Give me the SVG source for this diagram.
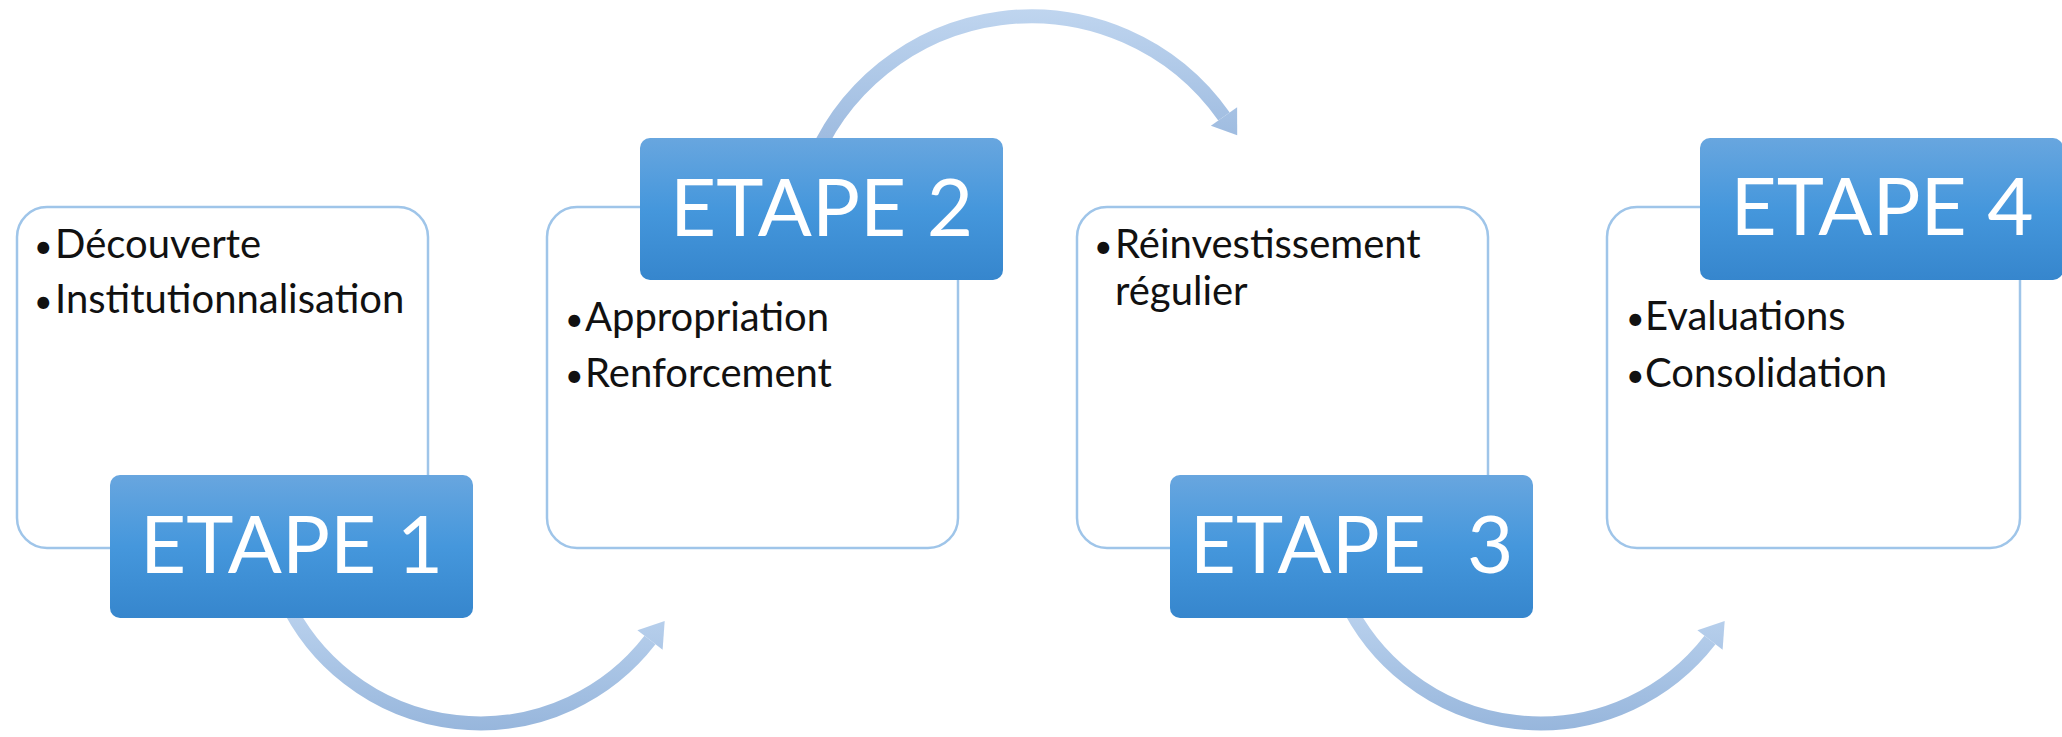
<svg xmlns="http://www.w3.org/2000/svg" width="2062" height="737" viewBox="0 0 2062 737">
  <defs>
    <linearGradient id="blue" x1="0" y1="0" x2="0" y2="1">
      <stop offset="0" stop-color="#68a6df"/>
      <stop offset="0.5" stop-color="#4597dc"/>
      <stop offset="1" stop-color="#3686cd"/>
    </linearGradient>
    <linearGradient id="arrLow" gradientUnits="userSpaceOnUse" x1="0" y1="598" x2="0" y2="731">
      <stop offset="0" stop-color="#bdd4ef"/>
      <stop offset="1" stop-color="#97b6dc"/>
    </linearGradient>
    <linearGradient id="arrHigh" gradientUnits="userSpaceOnUse" x1="0" y1="9" x2="0" y2="172">
      <stop offset="0" stop-color="#bfd5ef"/>
      <stop offset="1" stop-color="#96b5dc"/>
    </linearGradient>
  </defs>
  <style>
    .card { fill: #ffffff; stroke: #9fc5e9; stroke-width: 2.5; }
    .tab { fill: url(#blue); }
    .tabtxt { font-family: Lato, "Open Sans", "Liberation Sans", sans-serif; font-size: 80px; fill: #ffffff; text-anchor: middle; }
    .body { font-family: Lato, "Open Sans", "Liberation Sans", sans-serif; font-size: 40px; fill: #111111; }
    .bul { font-size: 32px; }
    .shaft { fill: none; stroke-width: 14; }
  </style>
  <rect width="2062" height="737" fill="#ffffff"/>

  <g id="connectors">
    <path class="shaft" stroke="url(#arrLow)" d="M 285 599 A 215 215 0 0 0 650 640"/>
    <polygon fill="url(#arrLow)" points="664.7,621 662.6,649.8 637.4,630.2"/>
    <path class="shaft" stroke="url(#arrHigh)" d="M 809.2 171.6 A 236 236 0 0 1 1224 116.5"/>
    <polygon fill="url(#arrHigh)" points="1237.2,135.3 1237.1,107.3 1210.9,125.7"/>
    <path class="shaft" stroke="url(#arrLow)" d="M 1345 599 A 215 215 0 0 0 1710 640"/>
    <polygon fill="url(#arrLow)" points="1724.7,621 1722.6,649.8 1697.4,630.2"/>
  </g>

  <g id="step1">
    <rect class="card" x="17" y="207" width="411" height="341" rx="30"/>
    <text class="body"><tspan class="bul" x="34" y="258">•</tspan><tspan x="55" y="258">Découverte</tspan></text>
    <text class="body"><tspan class="bul" x="34" y="313">•</tspan><tspan x="55" y="313">Institutionnalisation</tspan></text>
    <rect class="tab" x="110" y="475" width="363" height="143" rx="10"/>
    <text class="tabtxt" x="291.5" y="573">ETAPE 1</text>
  </g>

  <g id="step2">
    <rect class="card" x="547" y="207" width="411" height="341" rx="30"/>
    <rect class="tab" x="640" y="138" width="363" height="142" rx="10"/>
    <text class="tabtxt" x="821.5" y="236">ETAPE 2</text>
    <text class="body"><tspan class="bul" x="565" y="331">•</tspan><tspan x="585" y="331">Appropriation</tspan></text>
    <text class="body"><tspan class="bul" x="565" y="387">•</tspan><tspan x="585" y="387">Renforcement</tspan></text>
  </g>

  <g id="step3">
    <rect class="card" x="1077" y="207" width="411" height="341" rx="30"/>
    <text class="body"><tspan class="bul" x="1094" y="258">•</tspan><tspan x="1115" y="258">Réinvestissement</tspan></text>
    <text class="body" x="1115" y="305">régulier</text>
    <rect class="tab" x="1170" y="475" width="363" height="143" rx="10"/>
    <text class="tabtxt" x="1351.5" y="573" xml:space="preserve">ETAPE  3</text>
  </g>

  <g id="step4">
    <rect class="card" x="1607" y="207" width="413" height="341" rx="30"/>
    <rect class="tab" x="1700" y="138" width="363" height="142" rx="10"/>
    <text class="tabtxt" x="1882" y="235">ETAPE 4</text>
    <text class="body"><tspan class="bul" x="1626" y="330">•</tspan><tspan x="1645" y="330">Evaluations</tspan></text>
    <text class="body"><tspan class="bul" x="1626" y="387">•</tspan><tspan x="1645" y="387">Consolidation</tspan></text>
  </g>
</svg>
